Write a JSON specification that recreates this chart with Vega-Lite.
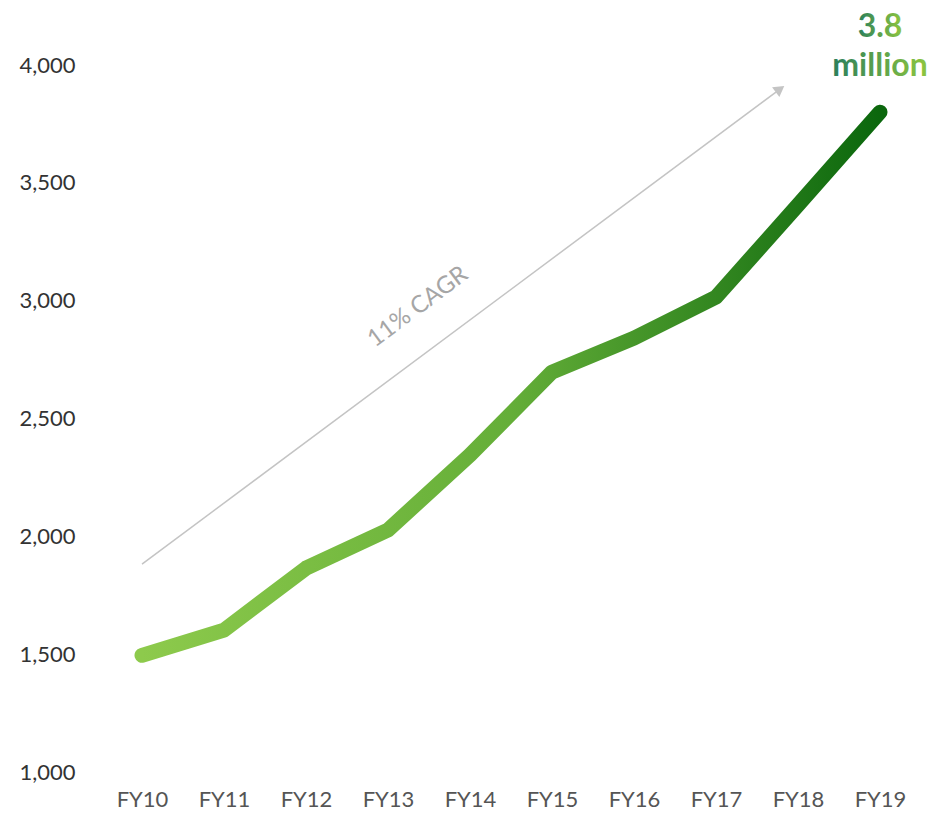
{
  "$schema": "https://vega.github.io/schema/vega-lite/v6.json",
  "width": 820,
  "height": 707,
  "autosize": {"type": "none"},
  "padding": {"left": 101, "top": 65, "right": 18, "bottom": 42},
  "background": "white",
  "config": {
    "view": {"stroke": null},
    "font": "Lato",
    "axis": {"title": null, "ticks": false, "domain": false, "grid": false, "labelFont": "Lato", "labelFontSize": 22},
    "axisX": {"labelAngle": 0, "labelColor": "#555555", "labelPadding": 17},
    "axisY": {"labelColor": "#333333", "labelPadding": 26}
  },
  "datasets": {
    "series": [
      {"year": "FY10", "value": 1495},
      {"year": "FY11", "value": 1602},
      {"year": "FY12", "value": 1865},
      {"year": "FY13", "value": 2027},
      {"year": "FY14", "value": 2345},
      {"year": "FY15", "value": 2697},
      {"year": "FY16", "value": 2841},
      {"year": "FY17", "value": 3015},
      {"year": "FY18", "value": 3406},
      {"year": "FY19", "value": 3800}
    ],
    "arrow": [
      {"year": "FY10", "value": 1882, "year2": "FY18", "value2": 3898}
    ],
    "head": [
      {"year": "FY18", "value": 3898}
    ],
    "cagr": [
      {"year": "FY13", "value": 2973, "label": "11% CAGR"}
    ],
    "callout": [
      {"year": "FY19", "value": 4160, "label": "3.8"},
      {"year": "FY19", "value": 3995, "label": "million"}
    ]
  },
  "layer": [
    {
      "data": {"name": "arrow"},
      "mark": {"type": "rule", "color": "#c4c4c4", "strokeWidth": 1.5, "x2Offset": -18},
      "encoding": {
        "x": {"field": "year", "type": "ordinal"},
        "x2": {"field": "year2"},
        "y": {"field": "value", "type": "quantitative"},
        "y2": {"field": "value2"}
      }
    },
    {
      "data": {"name": "head"},
      "mark": {"type": "point", "shape": "triangle-up", "filled": true, "color": "#c4c4c4", "opacity": 1, "size": 150, "angle": 53.4, "xOffset": -18},
      "encoding": {
        "x": {"field": "year", "type": "ordinal"},
        "y": {"field": "value", "type": "quantitative"}
      }
    },
    {
      "data": {"name": "cagr"},
      "mark": {"type": "text", "angle": -36.6, "fontSize": 24, "color": "#a6a6a6", "xOffset": 30, "align": "center", "baseline": "middle"},
      "encoding": {
        "x": {"field": "year", "type": "ordinal"},
        "y": {"field": "value", "type": "quantitative"},
        "text": {"field": "label"}
      }
    },
    {
      "data": {"name": "series"},
      "mark": {
        "type": "line",
        "strokeWidth": 15,
        "strokeCap": "round",
        "strokeJoin": "round",
        "color": {
          "gradient": "linear",
          "x1": 0, "y1": 0, "x2": 1, "y2": 0,
          "stops": [
            {"offset": 0, "color": "#8dca4c"},
            {"offset": 0.5, "color": "#64ae38"},
            {"offset": 1, "color": "#0b670d"}
          ]
        }
      },
      "encoding": {
        "x": {
          "field": "year",
          "type": "ordinal",
          "scale": {"type": "point", "padding": 0.5, "domain": ["FY10", "FY11", "FY12", "FY13", "FY14", "FY15", "FY16", "FY17", "FY18", "FY19"]}
        },
        "y": {
          "field": "value",
          "type": "quantitative",
          "scale": {"domain": [1000, 4000], "nice": false, "zero": false},
          "axis": {"values": [1000, 1500, 2000, 2500, 3000, 3500, 4000], "labelExpr": "format(datum.value, ',')"}
        }
      }
    },
    {
      "data": {"name": "callout"},
      "mark": {
        "type": "text",
        "fontSize": 32,
        "fontWeight": "bold",
        "align": "center",
        "baseline": "middle",
        "fill": {
          "gradient": "linear",
          "x1": 0, "y1": 0, "x2": 1, "y2": 0,
          "stops": [
            {"offset": 0, "color": "#2b7f5b"},
            {"offset": 1, "color": "#8dc63f"}
          ]
        }
      },
      "encoding": {
        "x": {"field": "year", "type": "ordinal"},
        "y": {"field": "value", "type": "quantitative"},
        "text": {"field": "label"}
      }
    }
  ]
}
